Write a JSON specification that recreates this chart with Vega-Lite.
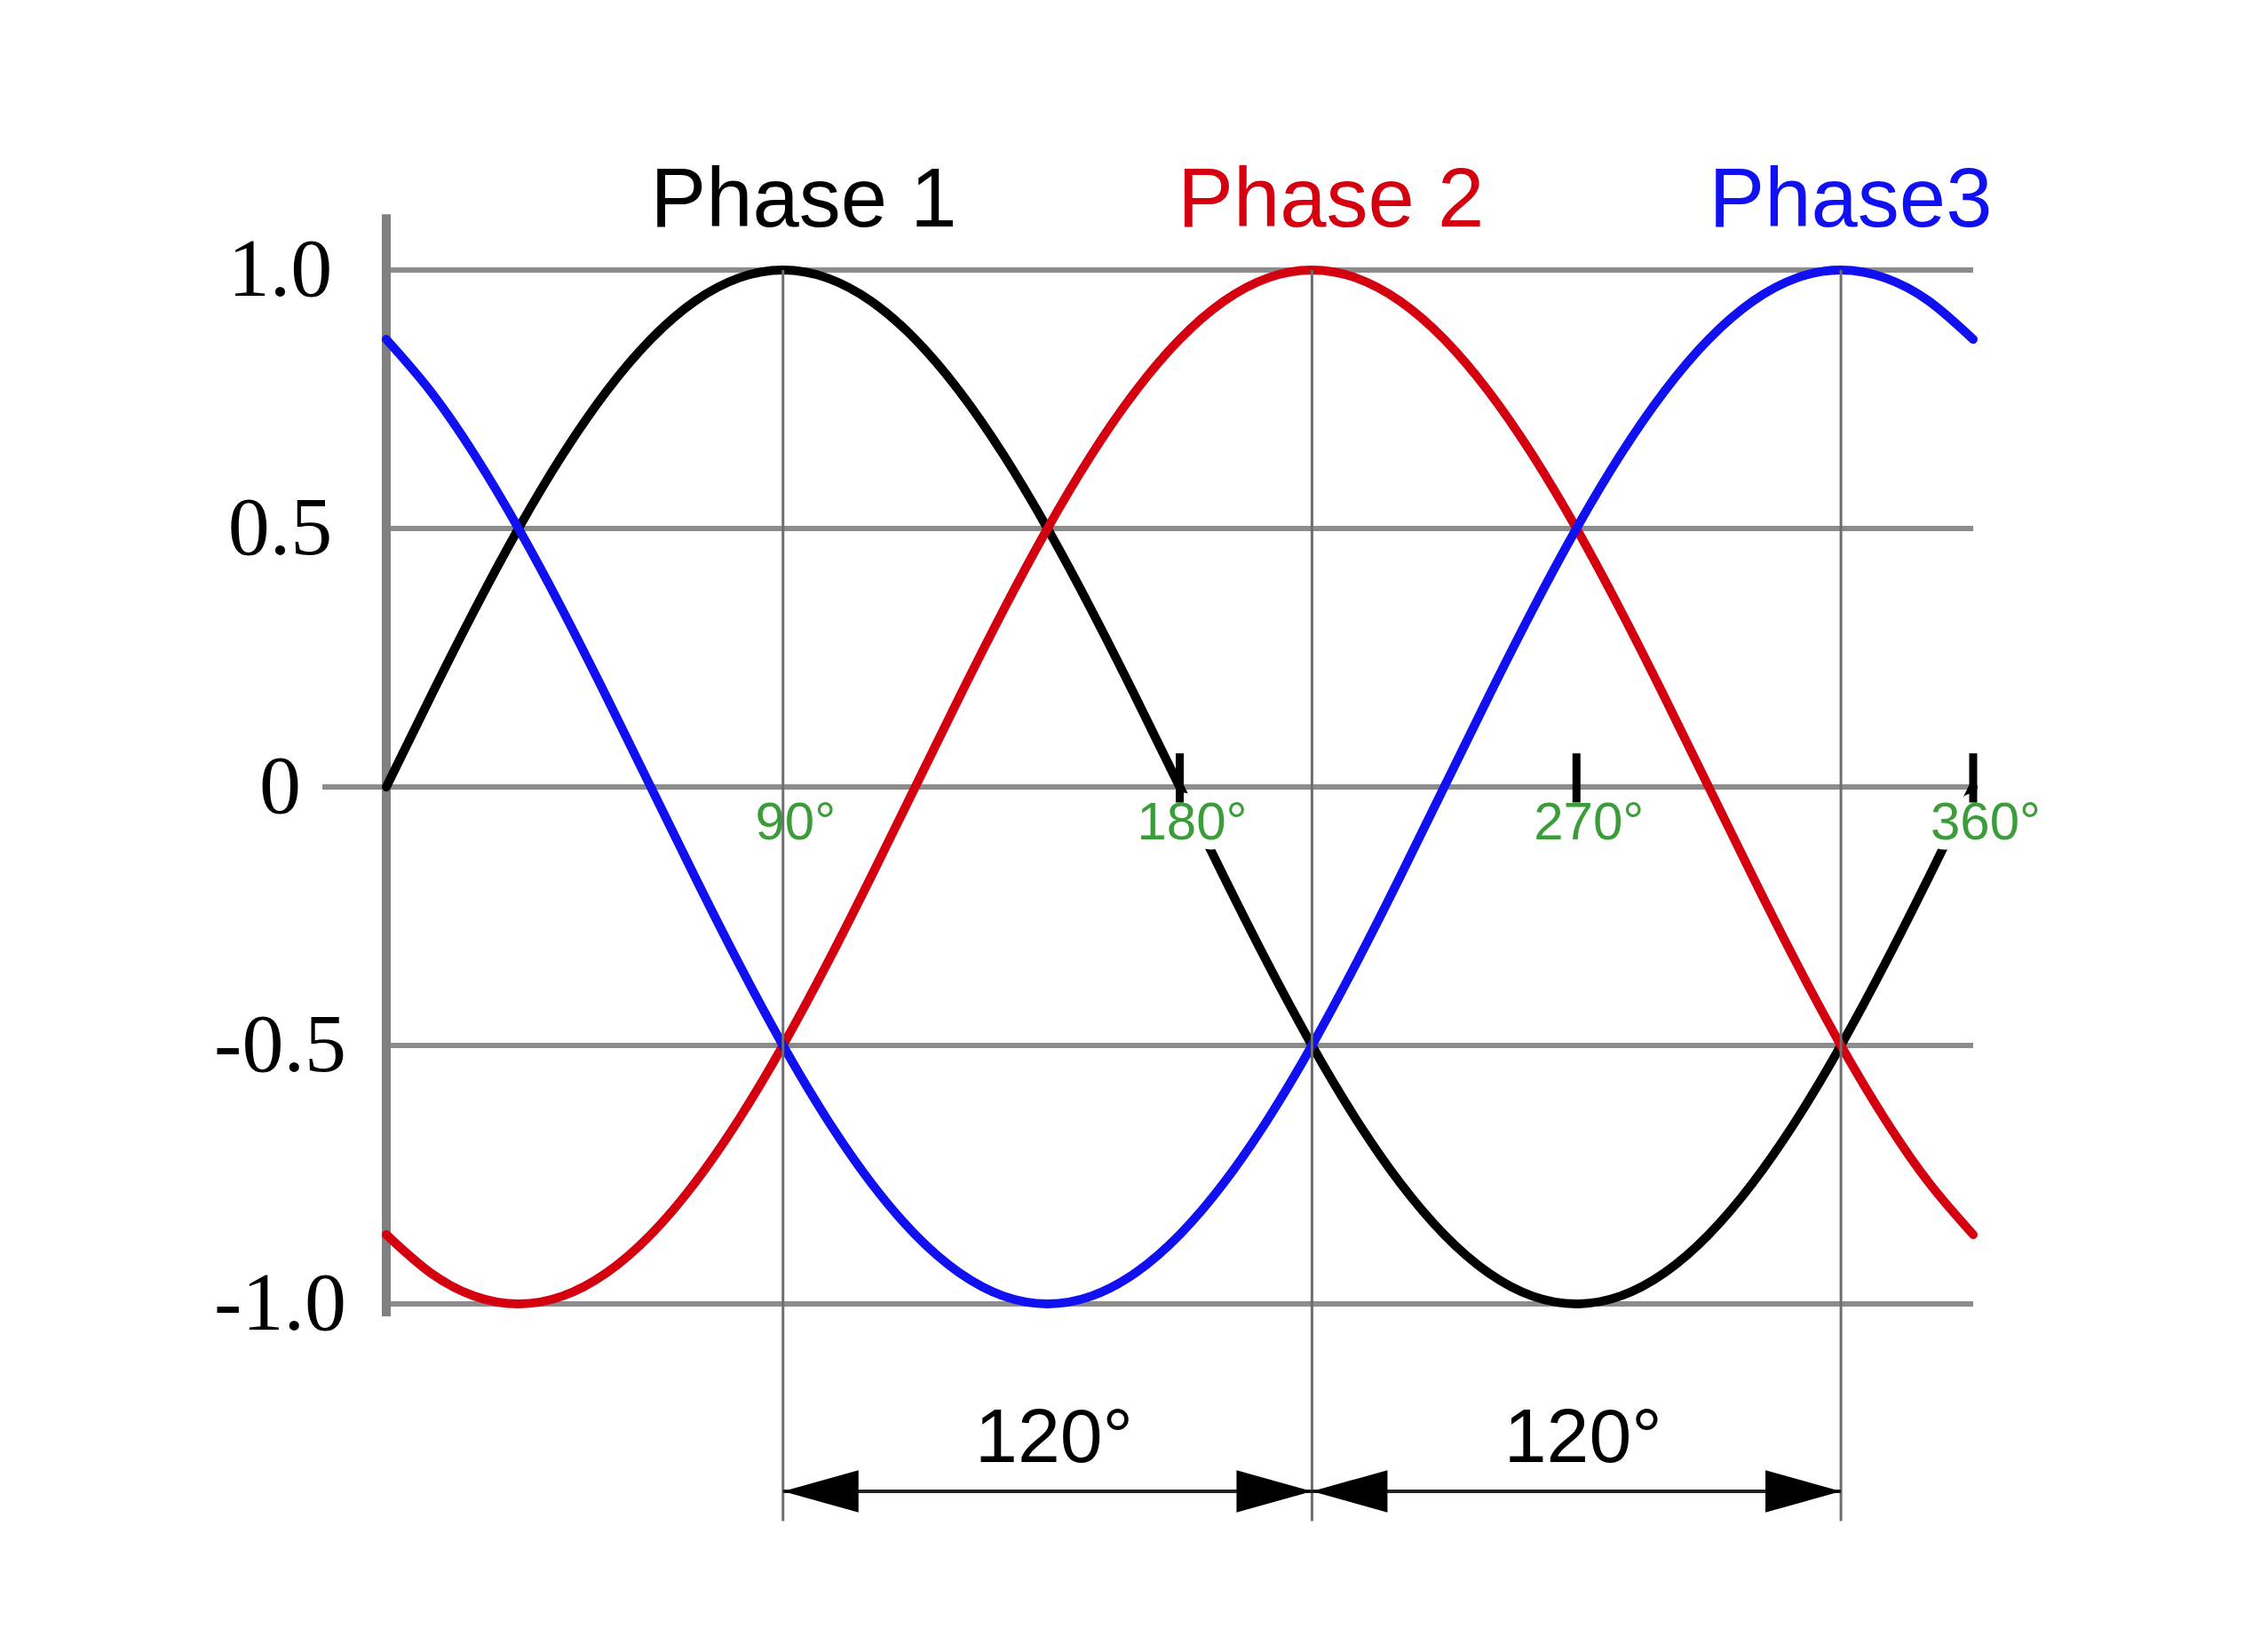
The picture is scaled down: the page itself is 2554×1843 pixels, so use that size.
{
  "$schema": "https://vega.github.io/schema/vega-lite/v6.json",
  "width": 1787,
  "height": 1164,
  "autosize": {"type": "none"},
  "padding": {"left": 435, "top": 304, "right": 332, "bottom": 375},
  "background": "white",
  "config": {
    "view": {"stroke": null},
    "axisY": {
      "domain": false, "ticks": false, "grid": false,
      "labelFont": "Liberation Serif", "labelFontSize": 94, "labelColor": "#000000",
      "labelAlign": "center", "labelBaseline": "middle", "labelPadding": 120,
      "labelFlush": false, "labelOverlap": false
    }
  },
  "datasets": {
    "waves": [
      {"deg": 0, "p1": 0, "p2": -0.866, "p3": 0.866},
      {"deg": 10, "p1": 0.1736, "p2": -0.9397, "p3": 0.766},
      {"deg": 20, "p1": 0.342, "p2": -0.9848, "p3": 0.6428},
      {"deg": 30, "p1": 0.5, "p2": -1, "p3": 0.5},
      {"deg": 40, "p1": 0.6428, "p2": -0.9848, "p3": 0.342},
      {"deg": 50, "p1": 0.766, "p2": -0.9397, "p3": 0.1736},
      {"deg": 60, "p1": 0.866, "p2": -0.866, "p3": 0},
      {"deg": 70, "p1": 0.9397, "p2": -0.766, "p3": -0.1736},
      {"deg": 80, "p1": 0.9848, "p2": -0.6428, "p3": -0.342},
      {"deg": 90, "p1": 1, "p2": -0.5, "p3": -0.5},
      {"deg": 100, "p1": 0.9848, "p2": -0.342, "p3": -0.6428},
      {"deg": 110, "p1": 0.9397, "p2": -0.1736, "p3": -0.766},
      {"deg": 120, "p1": 0.866, "p2": 0, "p3": -0.866},
      {"deg": 130, "p1": 0.766, "p2": 0.1736, "p3": -0.9397},
      {"deg": 140, "p1": 0.6428, "p2": 0.342, "p3": -0.9848},
      {"deg": 150, "p1": 0.5, "p2": 0.5, "p3": -1},
      {"deg": 160, "p1": 0.342, "p2": 0.6428, "p3": -0.9848},
      {"deg": 170, "p1": 0.1736, "p2": 0.766, "p3": -0.9397},
      {"deg": 180, "p1": 0, "p2": 0.866, "p3": -0.866},
      {"deg": 190, "p1": -0.1736, "p2": 0.9397, "p3": -0.766},
      {"deg": 200, "p1": -0.342, "p2": 0.9848, "p3": -0.6428},
      {"deg": 210, "p1": -0.5, "p2": 1, "p3": -0.5},
      {"deg": 220, "p1": -0.6428, "p2": 0.9848, "p3": -0.342},
      {"deg": 230, "p1": -0.766, "p2": 0.9397, "p3": -0.1736},
      {"deg": 240, "p1": -0.866, "p2": 0.866, "p3": 0},
      {"deg": 250, "p1": -0.9397, "p2": 0.766, "p3": 0.1736},
      {"deg": 260, "p1": -0.9848, "p2": 0.6428, "p3": 0.342},
      {"deg": 270, "p1": -1, "p2": 0.5, "p3": 0.5},
      {"deg": 280, "p1": -0.9848, "p2": 0.342, "p3": 0.6428},
      {"deg": 290, "p1": -0.9397, "p2": 0.1736, "p3": 0.766},
      {"deg": 300, "p1": -0.866, "p2": 0, "p3": 0.866},
      {"deg": 310, "p1": -0.766, "p2": -0.1736, "p3": 0.9397},
      {"deg": 320, "p1": -0.6428, "p2": -0.342, "p3": 0.9848},
      {"deg": 330, "p1": -0.5, "p2": -0.5, "p3": 1},
      {"deg": 340, "p1": -0.342, "p2": -0.6428, "p3": 0.9848},
      {"deg": 350, "p1": -0.1736, "p2": -0.766, "p3": 0.9397},
      {"deg": 360, "p1": 0, "p2": -0.866, "p3": 0.866}
    ],
    "hgrid": [{"v": 1}, {"v": 0.5}, {"v": -0.5}, {"v": -1}],
    "zeroLine": [{"v": 0}],
    "yAxisLine": [{"deg": 0}],
    "vgrid": [{"deg": 90}, {"deg": 210}, {"deg": 330}],
    "ticks": [{"deg": 180}, {"deg": 270}, {"deg": 360}],
    "degLabels": [
      {"deg": 90, "label": "90°"},
      {"deg": 180, "label": "180°"},
      {"deg": 270, "label": "270°"},
      {"deg": 360, "label": "360°"}
    ],
    "spanLine": [{"from": 90, "to": 330}],
    "arrows": [
      {"deg": 90, "dir": "left"},
      {"deg": 210, "dir": "right"},
      {"deg": 210, "dir": "left"},
      {"deg": 330, "dir": "right"}
    ],
    "spanLabels": [
      {"deg": 151.5, "label": "120°"},
      {"deg": 271.5, "label": "120°"}
    ],
    "titles": [
      {"deg": 94.7, "label": "Phase 1", "phase": "p1"},
      {"deg": 214.3, "label": "Phase 2", "phase": "p2"},
      {"deg": 332.2, "label": "Phase3", "phase": "p3"}
    ]
  },
  "layer": [
    {
      "data": {"name": "hgrid"},
      "mark": {"type": "rule", "stroke": "#8c8c8c", "strokeWidth": 6},
      "encoding": {
        "y": {
          "field": "v", "type": "quantitative",
          "scale": {"domain": [-1, 1], "nice": false, "zero": false},
          "axis": {
            "title": null,
            "values": [-1, -0.5, 0, 0.5, 1],
            "labelExpr": "datum.value == 1 ? '1.0' : datum.value == 0.5 ? '0.5' : datum.value == 0 ? '0' : datum.value == -0.5 ? '-0.5' : '-1.0'"
          }
        },
        "x": {"datum": 0, "type": "quantitative", "scale": {"domain": [0, 360], "nice": false, "zero": false}, "axis": null},
        "x2": {"datum": 360}
      }
    },
    {
      "data": {"name": "zeroLine"},
      "mark": {"type": "rule", "stroke": "#8c8c8c", "strokeWidth": 6},
      "encoding": {
        "y": {"field": "v", "type": "quantitative", "scale": {"domain": [-1, 1], "nice": false, "zero": false}, "axis": {"title": null}},
        "x": {"datum": -14.5, "type": "quantitative", "scale": {"domain": [0, 360], "nice": false, "zero": false}, "axis": null},
        "x2": {"datum": 360}
      }
    },
    {
      "data": {"name": "yAxisLine"},
      "mark": {"type": "rule", "stroke": "#808080", "strokeWidth": 10},
      "encoding": {
        "x": {"field": "deg", "type": "quantitative", "scale": {"domain": [0, 360], "nice": false, "zero": false}, "axis": null},
        "y": {"datum": 1.108, "type": "quantitative", "scale": {"domain": [-1, 1], "nice": false, "zero": false}, "axis": {"title": null}},
        "y2": {"datum": -1.024}
      }
    },
    {
      "data": {"name": "waves"},
      "transform": [{"fold": ["p1", "p2", "p3"], "as": ["phase", "value"]}],
      "mark": {"type": "line", "interpolate": "natural", "strokeWidth": 10, "strokeCap": "round"},
      "encoding": {
        "x": {"field": "deg", "type": "quantitative", "scale": {"domain": [0, 360], "nice": false, "zero": false}, "axis": null},
        "y": {"field": "value", "type": "quantitative", "scale": {"domain": [-1, 1], "nice": false, "zero": false}, "axis": {"title": null}},
        "color": {"field": "phase", "type": "nominal", "scale": {"domain": ["p1", "p2", "p3"], "range": ["#000000", "#d40010", "#1010f0"]}, "legend": null}
      }
    },
    {
      "data": {"name": "degLabels"},
      "mark": {"type": "text", "font": "Liberation Sans", "fontSize": 60, "baseline": "middle", "align": "center", "dx": 14, "fill": "white", "stroke": "white", "strokeWidth": 22, "strokeJoin": "round"},
      "encoding": {
        "x": {"field": "deg", "type": "quantitative", "scale": {"domain": [0, 360], "nice": false, "zero": false}, "axis": null},
        "y": {"datum": -0.07, "type": "quantitative", "scale": {"domain": [-1, 1], "nice": false, "zero": false}, "axis": {"title": null}},
        "text": {"field": "label"}
      }
    },
    {
      "data": {"name": "degLabels"},
      "mark": {"type": "text", "font": "Liberation Sans", "fontSize": 60, "baseline": "middle", "align": "center", "dx": 14, "fill": "#3a9d3a"},
      "encoding": {
        "x": {"field": "deg", "type": "quantitative", "scale": {"domain": [0, 360], "nice": false, "zero": false}, "axis": null},
        "y": {"datum": -0.07, "type": "quantitative", "scale": {"domain": [-1, 1], "nice": false, "zero": false}, "axis": {"title": null}},
        "text": {"field": "label"}
      }
    },
    {
      "data": {"name": "ticks"},
      "mark": {"type": "rule", "stroke": "#000000", "strokeWidth": 9},
      "encoding": {
        "x": {"field": "deg", "type": "quantitative", "scale": {"domain": [0, 360], "nice": false, "zero": false}, "axis": null},
        "y": {"datum": 0.065, "type": "quantitative", "scale": {"domain": [-1, 1], "nice": false, "zero": false}, "axis": {"title": null}},
        "y2": {"datum": -0.03}
      }
    },
    {
      "data": {"name": "vgrid"},
      "mark": {"type": "rule", "stroke": "#6e6e6e", "strokeWidth": 3},
      "encoding": {
        "x": {"field": "deg", "type": "quantitative", "scale": {"domain": [0, 360], "nice": false, "zero": false}, "axis": null},
        "y": {"datum": 1, "type": "quantitative", "scale": {"domain": [-1, 1], "nice": false, "zero": false}, "axis": {"title": null}},
        "y2": {"datum": -1.42}
      }
    },
    {
      "data": {"name": "spanLine"},
      "mark": {"type": "rule", "stroke": "#222222", "strokeWidth": 4},
      "encoding": {
        "x": {"field": "from", "type": "quantitative", "scale": {"domain": [0, 360], "nice": false, "zero": false}, "axis": null},
        "x2": {"field": "to"},
        "y": {"datum": -1.3625, "type": "quantitative", "scale": {"domain": [-1, 1], "nice": false, "zero": false}, "axis": {"title": null}}
      }
    },
    {
      "data": {"name": "arrows"},
      "mark": {"type": "point", "filled": true, "size": 7225, "color": "#000000", "opacity": 1, "strokeWidth": 0},
      "encoding": {
        "x": {"field": "deg", "type": "quantitative", "scale": {"domain": [0, 360], "nice": false, "zero": false}, "axis": null},
        "y": {"datum": -1.3625, "type": "quantitative", "scale": {"domain": [-1, 1], "nice": false, "zero": false}, "axis": {"title": null}},
        "shape": {"field": "dir", "type": "nominal", "scale": {"domain": ["left", "right"], "range": ["M0,0L2,-0.56L2,0.56Z", "M0,0L-2,-0.56L-2,0.56Z"]}, "legend": null}
      }
    },
    {
      "data": {"name": "spanLabels"},
      "mark": {"type": "text", "font": "Liberation Sans", "fontSize": 86, "baseline": "alphabetic", "align": "center", "fill": "#000000"},
      "encoding": {
        "x": {"field": "deg", "type": "quantitative", "scale": {"domain": [0, 360], "nice": false, "zero": false}, "axis": null},
        "y": {"datum": -1.306, "type": "quantitative", "scale": {"domain": [-1, 1], "nice": false, "zero": false}, "axis": {"title": null}},
        "text": {"field": "label"}
      }
    },
    {
      "data": {"name": "titles"},
      "mark": {"type": "text", "font": "Liberation Sans", "fontSize": 94, "baseline": "alphabetic", "align": "center"},
      "encoding": {
        "x": {"field": "deg", "type": "quantitative", "scale": {"domain": [0, 360], "nice": false, "zero": false}, "axis": null},
        "y": {"datum": 1.085, "type": "quantitative", "scale": {"domain": [-1, 1], "nice": false, "zero": false}, "axis": {"title": null}},
        "text": {"field": "label"},
        "color": {"field": "phase", "type": "nominal", "scale": {"domain": ["p1", "p2", "p3"], "range": ["#000000", "#d40010", "#1010f0"]}, "legend": null}
      }
    }
  ]
}
